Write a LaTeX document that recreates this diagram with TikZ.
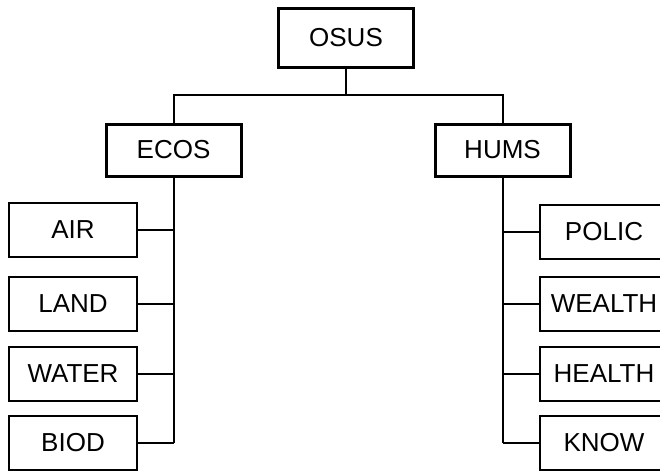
\documentclass[tikz,border=0pt]{standalone}
\usepackage{fontspec}
\setmainfont{Liberation Sans}
\begin{document}
\begin{tikzpicture}[x=1pt,y=-1pt,
        headbox/.style={draw, line width=3pt, inner sep=0pt, minimum width=135pt,
            minimum height=52pt, font=\fontsize{26}{31}\selectfont},
        leafbox/.style={draw, line width=2pt, inner sep=0pt, minimum width=128pt,
            minimum height=54pt, font=\fontsize{26}{31}\selectfont},
        link/.style={line width=2pt}]
    \useasboundingbox (0,0) rectangle (660,471);
    \clip (0,0) rectangle (660,471);
    \node[headbox, minimum height=59pt] (osus) at (346,37.5) {OSUS};
    \node[headbox] (ecos) at (173.5,150) {ECOS};
    \node[headbox] (hums) at (502.5,150) {HUMS};
    \coordinate (split) at (346,95);
    \draw[link] (osus.south) -- (split);
    \draw[link] (ecos.north) |- (split) -| (hums.north);
    % left branch
    \foreach \name/\txt/\y in {air/AIR/230,land/LAND/303.5,water/WATER/373.5,biod/BIOD/443}{
        \node[leafbox] (\name) at (73,\y) {\txt};
        \draw[link] (\name.east) -- (\name.east -| ecos.south);
        };
    \draw[link] (ecos.south) -- (ecos.south |- biod.east);
    % right branch
    \foreach \name/\txt/\y in {polic/POLIC/231.5,wealth/WEALTH/303.5,health/HEALTH/373.5,know/KNOW/443}{
        \node[leafbox] (\name) at (604,\y) {\txt};
        \draw[link] (\name.west) -- (\name.west -| hums.south);
        };
    \draw[link] (hums.south) -- (hums.south |- know.west);
\end{tikzpicture}
\end{document}
